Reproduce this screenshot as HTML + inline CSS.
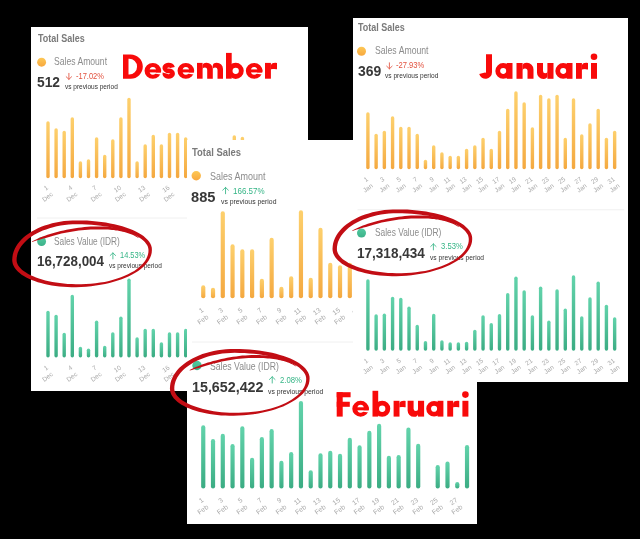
<!DOCTYPE html>
<html><head><meta charset="utf-8"><title>Sales</title>
<style>
html,body{margin:0;padding:0;background:#000;}
body{width:640px;height:539px;position:relative;overflow:hidden;font-family:"Liberation Sans",sans-serif;}
.panel{position:absolute;background:#fff;overflow:hidden;}
.tl{position:absolute;left:0;top:0;right:0;bottom:0;will-change:transform;}
.t{position:absolute;white-space:nowrap;line-height:1;transform-origin:left center;}
.big{position:absolute;white-space:nowrap;line-height:1;color:#f60a0a;-webkit-text-stroke:1.3px #f60a0a;font-weight:700;transform-origin:left bottom;z-index:20;}
svg text{font-family:"Liberation Sans",sans-serif;}
</style></head><body>
<svg width="0" height="0" style="position:absolute"><defs>
<linearGradient id="og" x1="0" y1="0" x2="0" y2="1"><stop offset="0" stop-color="#fdd06d"/><stop offset="1" stop-color="#f4a83f"/></linearGradient>
<linearGradient id="gg" x1="0" y1="0" x2="0" y2="1"><stop offset="0" stop-color="#62d3ab"/><stop offset="1" stop-color="#3bac83"/></linearGradient>
<linearGradient id="od" x1="0" y1="0" x2="0" y2="1"><stop offset="0" stop-color="#fdc856"/><stop offset="1" stop-color="#f8a83e"/></linearGradient>
<linearGradient id="gd" x1="0" y1="0" x2="0" y2="1"><stop offset="0" stop-color="#52caa0"/><stop offset="1" stop-color="#3cb189"/></linearGradient>
</defs></svg>
<div class="panel" style="left:31px;top:26.5px;width:276.5px;height:364.5px;z-index:1">
<svg width="276.5" height="364.5" viewBox="31 26.5 276.5 364.5" style="position:absolute;left:0;top:0;overflow:hidden;will-change:transform">
<line x1="37" y1="217.5" x2="301" y2="217.5" stroke="#f0f0f0" stroke-width="1"/>
<rect x="46.30" y="120.75" width="3.4" height="56.95" rx="1.7" fill="url(#og)"/>
<rect x="54.40" y="127.75" width="3.4" height="49.95" rx="1.7" fill="url(#og)"/>
<rect x="62.50" y="130.25" width="3.4" height="47.45" rx="1.7" fill="url(#og)"/>
<rect x="70.60" y="116.75" width="3.4" height="60.95" rx="1.7" fill="url(#og)"/>
<rect x="78.70" y="160.75" width="3.4" height="16.95" rx="1.7" fill="url(#og)"/>
<rect x="86.80" y="158.75" width="3.4" height="18.95" rx="1.7" fill="url(#og)"/>
<rect x="94.90" y="136.75" width="3.4" height="40.95" rx="1.7" fill="url(#og)"/>
<rect x="103.00" y="154.25" width="3.4" height="23.45" rx="1.7" fill="url(#og)"/>
<rect x="111.10" y="138.75" width="3.4" height="38.95" rx="1.7" fill="url(#og)"/>
<rect x="119.20" y="116.75" width="3.4" height="60.95" rx="1.7" fill="url(#og)"/>
<rect x="127.30" y="97.25" width="3.4" height="80.45" rx="1.7" fill="url(#og)"/>
<rect x="135.40" y="160.75" width="3.4" height="16.95" rx="1.7" fill="url(#og)"/>
<rect x="143.50" y="143.75" width="3.4" height="33.95" rx="1.7" fill="url(#og)"/>
<rect x="151.60" y="134.25" width="3.4" height="43.45" rx="1.7" fill="url(#og)"/>
<rect x="159.70" y="143.75" width="3.4" height="33.95" rx="1.7" fill="url(#og)"/>
<rect x="167.80" y="132.25" width="3.4" height="45.45" rx="1.7" fill="url(#og)"/>
<rect x="175.90" y="132.25" width="3.4" height="45.45" rx="1.7" fill="url(#og)"/>
<rect x="184.00" y="136.75" width="3.4" height="40.95" rx="1.7" fill="url(#og)"/>
<rect x="192.10" y="149.25" width="3.4" height="28.45" rx="1.7" fill="url(#og)"/>
<rect x="200.20" y="149.25" width="3.4" height="28.45" rx="1.7" fill="url(#og)"/>
<rect x="208.30" y="149.25" width="3.4" height="28.45" rx="1.7" fill="url(#og)"/>
<rect x="216.40" y="149.25" width="3.4" height="28.45" rx="1.7" fill="url(#og)"/>
<rect x="224.50" y="149.25" width="3.4" height="28.45" rx="1.7" fill="url(#og)"/>
<rect x="232.60" y="134.75" width="3.4" height="42.95" rx="1.7" fill="url(#og)"/>
<rect x="240.70" y="136.25" width="3.4" height="41.45" rx="1.7" fill="url(#og)"/>
<rect x="248.80" y="149.25" width="3.4" height="28.45" rx="1.7" fill="url(#og)"/>
<rect x="256.90" y="149.25" width="3.4" height="28.45" rx="1.7" fill="url(#og)"/>
<rect x="265.00" y="149.25" width="3.4" height="28.45" rx="1.7" fill="url(#og)"/>
<rect x="273.10" y="149.25" width="3.4" height="28.45" rx="1.7" fill="url(#og)"/>
<rect x="281.20" y="149.25" width="3.4" height="28.45" rx="1.7" fill="url(#og)"/>
<rect x="289.30" y="149.25" width="3.4" height="28.45" rx="1.7" fill="url(#og)"/>
<rect x="46.30" y="310.25" width="3.4" height="46.75" rx="1.7" fill="url(#gg)"/>
<rect x="54.40" y="314.25" width="3.4" height="42.75" rx="1.7" fill="url(#gg)"/>
<rect x="62.50" y="332.25" width="3.4" height="24.75" rx="1.7" fill="url(#gg)"/>
<rect x="70.60" y="294.25" width="3.4" height="62.75" rx="1.7" fill="url(#gg)"/>
<rect x="78.70" y="346.25" width="3.4" height="10.75" rx="1.7" fill="url(#gg)"/>
<rect x="86.80" y="348.00" width="3.4" height="9.00" rx="1.7" fill="url(#gg)"/>
<rect x="94.90" y="320.00" width="3.4" height="37.00" rx="1.7" fill="url(#gg)"/>
<rect x="103.00" y="345.25" width="3.4" height="11.75" rx="1.7" fill="url(#gg)"/>
<rect x="111.10" y="331.75" width="3.4" height="25.25" rx="1.7" fill="url(#gg)"/>
<rect x="119.20" y="316.00" width="3.4" height="41.00" rx="1.7" fill="url(#gg)"/>
<rect x="127.30" y="278.00" width="3.4" height="79.00" rx="1.7" fill="url(#gg)"/>
<rect x="135.40" y="336.75" width="3.4" height="20.25" rx="1.7" fill="url(#gg)"/>
<rect x="143.50" y="328.25" width="3.4" height="28.75" rx="1.7" fill="url(#gg)"/>
<rect x="151.60" y="328.25" width="3.4" height="28.75" rx="1.7" fill="url(#gg)"/>
<rect x="159.70" y="341.75" width="3.4" height="15.25" rx="1.7" fill="url(#gg)"/>
<rect x="167.80" y="331.75" width="3.4" height="25.25" rx="1.7" fill="url(#gg)"/>
<rect x="175.90" y="331.75" width="3.4" height="25.25" rx="1.7" fill="url(#gg)"/>
<rect x="184.00" y="328.25" width="3.4" height="28.75" rx="1.7" fill="url(#gg)"/>
<rect x="192.10" y="339.25" width="3.4" height="17.75" rx="1.7" fill="url(#gg)"/>
<rect x="200.20" y="339.25" width="3.4" height="17.75" rx="1.7" fill="url(#gg)"/>
<rect x="208.30" y="339.25" width="3.4" height="17.75" rx="1.7" fill="url(#gg)"/>
<rect x="216.40" y="339.25" width="3.4" height="17.75" rx="1.7" fill="url(#gg)"/>
<rect x="224.50" y="339.25" width="3.4" height="17.75" rx="1.7" fill="url(#gg)"/>
<rect x="232.60" y="339.25" width="3.4" height="17.75" rx="1.7" fill="url(#gg)"/>
<rect x="240.70" y="339.25" width="3.4" height="17.75" rx="1.7" fill="url(#gg)"/>
<rect x="248.80" y="339.25" width="3.4" height="17.75" rx="1.7" fill="url(#gg)"/>
<rect x="256.90" y="339.25" width="3.4" height="17.75" rx="1.7" fill="url(#gg)"/>
<rect x="265.00" y="339.25" width="3.4" height="17.75" rx="1.7" fill="url(#gg)"/>
<rect x="273.10" y="339.25" width="3.4" height="17.75" rx="1.7" fill="url(#gg)"/>
<rect x="281.20" y="339.25" width="3.4" height="17.75" rx="1.7" fill="url(#gg)"/>
<rect x="289.30" y="339.25" width="3.4" height="17.75" rx="1.7" fill="url(#gg)"/>
<text transform="rotate(-36 48.70 188.00)" x="48.70" y="188.00" text-anchor="end" font-size="6.5" fill="#aaaaaa"><tspan x="48.70" dy="0">1</tspan><tspan x="48.70" dy="8.2">Dec</tspan></text>
<text transform="rotate(-36 73.00 188.00)" x="73.00" y="188.00" text-anchor="end" font-size="6.5" fill="#aaaaaa"><tspan x="73.00" dy="0">4</tspan><tspan x="73.00" dy="8.2">Dec</tspan></text>
<text transform="rotate(-36 97.30 188.00)" x="97.30" y="188.00" text-anchor="end" font-size="6.5" fill="#aaaaaa"><tspan x="97.30" dy="0">7</tspan><tspan x="97.30" dy="8.2">Dec</tspan></text>
<text transform="rotate(-36 121.60 188.00)" x="121.60" y="188.00" text-anchor="end" font-size="6.5" fill="#aaaaaa"><tspan x="121.60" dy="0">10</tspan><tspan x="121.60" dy="8.2">Dec</tspan></text>
<text transform="rotate(-36 145.90 188.00)" x="145.90" y="188.00" text-anchor="end" font-size="6.5" fill="#aaaaaa"><tspan x="145.90" dy="0">13</tspan><tspan x="145.90" dy="8.2">Dec</tspan></text>
<text transform="rotate(-36 170.20 188.00)" x="170.20" y="188.00" text-anchor="end" font-size="6.5" fill="#aaaaaa"><tspan x="170.20" dy="0">16</tspan><tspan x="170.20" dy="8.2">Dec</tspan></text>
<text transform="rotate(-36 194.50 188.00)" x="194.50" y="188.00" text-anchor="end" font-size="6.5" fill="#aaaaaa"><tspan x="194.50" dy="0">19</tspan><tspan x="194.50" dy="8.2">Dec</tspan></text>
<text transform="rotate(-36 218.80 188.00)" x="218.80" y="188.00" text-anchor="end" font-size="6.5" fill="#aaaaaa"><tspan x="218.80" dy="0">22</tspan><tspan x="218.80" dy="8.2">Dec</tspan></text>
<text transform="rotate(-36 243.10 188.00)" x="243.10" y="188.00" text-anchor="end" font-size="6.5" fill="#aaaaaa"><tspan x="243.10" dy="0">25</tspan><tspan x="243.10" dy="8.2">Dec</tspan></text>
<text transform="rotate(-36 267.40 188.00)" x="267.40" y="188.00" text-anchor="end" font-size="6.5" fill="#aaaaaa"><tspan x="267.40" dy="0">28</tspan><tspan x="267.40" dy="8.2">Dec</tspan></text>
<text transform="rotate(-36 291.70 188.00)" x="291.70" y="188.00" text-anchor="end" font-size="6.5" fill="#aaaaaa"><tspan x="291.70" dy="0">31</tspan><tspan x="291.70" dy="8.2">Dec</tspan></text>
<text transform="rotate(-36 48.70 368.00)" x="48.70" y="368.00" text-anchor="end" font-size="6.5" fill="#aaaaaa"><tspan x="48.70" dy="0">1</tspan><tspan x="48.70" dy="8.2">Dec</tspan></text>
<text transform="rotate(-36 73.00 368.00)" x="73.00" y="368.00" text-anchor="end" font-size="6.5" fill="#aaaaaa"><tspan x="73.00" dy="0">4</tspan><tspan x="73.00" dy="8.2">Dec</tspan></text>
<text transform="rotate(-36 97.30 368.00)" x="97.30" y="368.00" text-anchor="end" font-size="6.5" fill="#aaaaaa"><tspan x="97.30" dy="0">7</tspan><tspan x="97.30" dy="8.2">Dec</tspan></text>
<text transform="rotate(-36 121.60 368.00)" x="121.60" y="368.00" text-anchor="end" font-size="6.5" fill="#aaaaaa"><tspan x="121.60" dy="0">10</tspan><tspan x="121.60" dy="8.2">Dec</tspan></text>
<text transform="rotate(-36 145.90 368.00)" x="145.90" y="368.00" text-anchor="end" font-size="6.5" fill="#aaaaaa"><tspan x="145.90" dy="0">13</tspan><tspan x="145.90" dy="8.2">Dec</tspan></text>
<text transform="rotate(-36 170.20 368.00)" x="170.20" y="368.00" text-anchor="end" font-size="6.5" fill="#aaaaaa"><tspan x="170.20" dy="0">16</tspan><tspan x="170.20" dy="8.2">Dec</tspan></text>
<text transform="rotate(-36 194.50 368.00)" x="194.50" y="368.00" text-anchor="end" font-size="6.5" fill="#aaaaaa"><tspan x="194.50" dy="0">19</tspan><tspan x="194.50" dy="8.2">Dec</tspan></text>
<text transform="rotate(-36 218.80 368.00)" x="218.80" y="368.00" text-anchor="end" font-size="6.5" fill="#aaaaaa"><tspan x="218.80" dy="0">22</tspan><tspan x="218.80" dy="8.2">Dec</tspan></text>
<text transform="rotate(-36 243.10 368.00)" x="243.10" y="368.00" text-anchor="end" font-size="6.5" fill="#aaaaaa"><tspan x="243.10" dy="0">25</tspan><tspan x="243.10" dy="8.2">Dec</tspan></text>
<text transform="rotate(-36 267.40 368.00)" x="267.40" y="368.00" text-anchor="end" font-size="6.5" fill="#aaaaaa"><tspan x="267.40" dy="0">28</tspan><tspan x="267.40" dy="8.2">Dec</tspan></text>
<text transform="rotate(-36 291.70 368.00)" x="291.70" y="368.00" text-anchor="end" font-size="6.5" fill="#aaaaaa"><tspan x="291.70" dy="0">31</tspan><tspan x="291.70" dy="8.2">Dec</tspan></text>
<circle cx="41.6" cy="61.7" r="4.45" fill="url(#od)"/>
<circle cx="41.6" cy="241" r="4.45" fill="url(#gd)"/>
<path d="M68.90 72.85 L68.90 78.85 M66.20 76.25 L68.90 78.85 L71.60 76.25" fill="none" stroke="#e2523f" stroke-width="0.85" stroke-linecap="round" stroke-linejoin="round"/>
<path d="M112.90 258.40 L112.90 252.40 M110.20 255.00 L112.90 252.40 L115.60 255.00" fill="none" stroke="#35b586" stroke-width="0.85" stroke-linecap="round" stroke-linejoin="round"/>
</svg>
<div class="tl"><span class="t" style="left:6.50px;top:12.25px;font-size:10.4px;font-weight:700;color:#7a7a7a;transform:translateY(-50%) scaleX(0.8651)">Total Sales</span>
<span class="t" style="left:23.08px;top:35.00px;font-size:10.2px;font-weight:400;color:#8c8c8c;transform:translateY(-50%) scaleX(0.8434)">Sales Amount</span>
<span class="t" style="left:6.01px;top:55.00px;font-size:14.1px;font-weight:700;color:#383838;transform:translateY(-50%) scaleX(0.9778)">512</span>
<span class="t" style="left:44.77px;top:49.60px;font-size:8.2px;font-weight:400;color:#e2523f;transform:translateY(-50%) scaleX(0.9167)">-17.02%</span>
<span class="t" style="left:33.50px;top:59.50px;font-size:7.2px;font-weight:400;color:#333;transform:translateY(-50%) scaleX(0.9052)">vs previous period</span>
<span class="t" style="left:23.09px;top:214.50px;font-size:10.2px;font-weight:400;color:#8c8c8c;transform:translateY(-50%) scaleX(0.8150)">Sales Value (IDR)</span>
<span class="t" style="left:5.79px;top:234.25px;font-size:14.1px;font-weight:700;color:#383838;transform:translateY(-50%) scaleX(0.9498)">16,728,004</span>
<span class="t" style="left:89.05px;top:229.25px;font-size:8.2px;font-weight:400;color:#35b586;transform:translateY(-50%) scaleX(0.9074)">14.53%</span>
<span class="t" style="left:77.75px;top:238.50px;font-size:7.2px;font-weight:400;color:#333;transform:translateY(-50%) scaleX(0.9052)">vs previous period</span>
</div></div>
<div class="panel" style="left:187px;top:140px;width:290px;height:384px;z-index:2">
<svg width="290" height="384" viewBox="187 140 290 384" style="position:absolute;left:0;top:0;overflow:hidden;will-change:transform">
<line x1="192" y1="342" x2="472" y2="342" stroke="#f0f0f0" stroke-width="1"/>
<rect x="201.15" y="285.30" width="4.2" height="13.00" rx="2.1" fill="url(#og)"/>
<rect x="210.92" y="287.80" width="4.2" height="10.50" rx="2.1" fill="url(#og)"/>
<rect x="220.69" y="211.30" width="4.2" height="87.00" rx="2.1" fill="url(#og)"/>
<rect x="230.46" y="244.30" width="4.2" height="54.00" rx="2.1" fill="url(#og)"/>
<rect x="240.23" y="249.30" width="4.2" height="49.00" rx="2.1" fill="url(#og)"/>
<rect x="250.00" y="249.30" width="4.2" height="49.00" rx="2.1" fill="url(#og)"/>
<rect x="259.77" y="278.80" width="4.2" height="19.50" rx="2.1" fill="url(#og)"/>
<rect x="269.54" y="237.80" width="4.2" height="60.50" rx="2.1" fill="url(#og)"/>
<rect x="279.31" y="286.80" width="4.2" height="11.50" rx="2.1" fill="url(#og)"/>
<rect x="289.08" y="276.30" width="4.2" height="22.00" rx="2.1" fill="url(#og)"/>
<rect x="298.85" y="210.30" width="4.2" height="88.00" rx="2.1" fill="url(#og)"/>
<rect x="308.62" y="277.80" width="4.2" height="20.50" rx="2.1" fill="url(#og)"/>
<rect x="318.39" y="227.80" width="4.2" height="70.50" rx="2.1" fill="url(#og)"/>
<rect x="328.16" y="262.80" width="4.2" height="35.50" rx="2.1" fill="url(#og)"/>
<rect x="337.93" y="265.30" width="4.2" height="33.00" rx="2.1" fill="url(#og)"/>
<rect x="347.70" y="262.80" width="4.2" height="35.50" rx="2.1" fill="url(#og)"/>
<rect x="357.47" y="270.30" width="4.2" height="28.00" rx="2.1" fill="url(#og)"/>
<rect x="367.24" y="270.30" width="4.2" height="28.00" rx="2.1" fill="url(#og)"/>
<rect x="377.01" y="270.30" width="4.2" height="28.00" rx="2.1" fill="url(#og)"/>
<rect x="386.78" y="270.30" width="4.2" height="28.00" rx="2.1" fill="url(#og)"/>
<rect x="396.55" y="270.30" width="4.2" height="28.00" rx="2.1" fill="url(#og)"/>
<rect x="406.32" y="270.30" width="4.2" height="28.00" rx="2.1" fill="url(#og)"/>
<rect x="416.09" y="270.30" width="4.2" height="28.00" rx="2.1" fill="url(#og)"/>
<rect x="425.86" y="270.30" width="4.2" height="28.00" rx="2.1" fill="url(#og)"/>
<rect x="435.63" y="270.30" width="4.2" height="28.00" rx="2.1" fill="url(#og)"/>
<rect x="445.40" y="270.30" width="4.2" height="28.00" rx="2.1" fill="url(#og)"/>
<rect x="455.17" y="270.30" width="4.2" height="28.00" rx="2.1" fill="url(#og)"/>
<rect x="464.94" y="270.30" width="4.2" height="28.00" rx="2.1" fill="url(#og)"/>
<rect x="201.15" y="425.30" width="4.2" height="63.20" rx="2.1" fill="url(#gg)"/>
<rect x="210.92" y="439.05" width="4.2" height="49.45" rx="2.1" fill="url(#gg)"/>
<rect x="220.69" y="433.80" width="4.2" height="54.70" rx="2.1" fill="url(#gg)"/>
<rect x="230.46" y="444.05" width="4.2" height="44.45" rx="2.1" fill="url(#gg)"/>
<rect x="240.23" y="426.30" width="4.2" height="62.20" rx="2.1" fill="url(#gg)"/>
<rect x="250.00" y="457.80" width="4.2" height="30.70" rx="2.1" fill="url(#gg)"/>
<rect x="259.77" y="437.05" width="4.2" height="51.45" rx="2.1" fill="url(#gg)"/>
<rect x="269.54" y="429.05" width="4.2" height="59.45" rx="2.1" fill="url(#gg)"/>
<rect x="279.31" y="460.80" width="4.2" height="27.70" rx="2.1" fill="url(#gg)"/>
<rect x="289.08" y="452.05" width="4.2" height="36.45" rx="2.1" fill="url(#gg)"/>
<rect x="298.85" y="401.00" width="4.2" height="87.50" rx="2.1" fill="url(#gg)"/>
<rect x="308.62" y="470.30" width="4.2" height="18.20" rx="2.1" fill="url(#gg)"/>
<rect x="318.39" y="453.30" width="4.2" height="35.20" rx="2.1" fill="url(#gg)"/>
<rect x="328.16" y="450.80" width="4.2" height="37.70" rx="2.1" fill="url(#gg)"/>
<rect x="337.93" y="453.80" width="4.2" height="34.70" rx="2.1" fill="url(#gg)"/>
<rect x="347.70" y="437.80" width="4.2" height="50.70" rx="2.1" fill="url(#gg)"/>
<rect x="357.47" y="445.30" width="4.2" height="43.20" rx="2.1" fill="url(#gg)"/>
<rect x="367.24" y="430.80" width="4.2" height="57.70" rx="2.1" fill="url(#gg)"/>
<rect x="377.01" y="423.80" width="4.2" height="64.70" rx="2.1" fill="url(#gg)"/>
<rect x="386.78" y="455.80" width="4.2" height="32.70" rx="2.1" fill="url(#gg)"/>
<rect x="396.55" y="455.05" width="4.2" height="33.45" rx="2.1" fill="url(#gg)"/>
<rect x="406.32" y="427.55" width="4.2" height="60.95" rx="2.1" fill="url(#gg)"/>
<rect x="416.09" y="443.80" width="4.2" height="44.70" rx="2.1" fill="url(#gg)"/>
<rect x="435.63" y="465.05" width="4.2" height="23.45" rx="2.1" fill="url(#gg)"/>
<rect x="445.40" y="461.55" width="4.2" height="26.95" rx="2.1" fill="url(#gg)"/>
<rect x="455.17" y="482.05" width="4.2" height="6.45" rx="2.1" fill="url(#gg)"/>
<rect x="464.94" y="445.05" width="4.2" height="43.45" rx="2.1" fill="url(#gg)"/>
<text transform="rotate(-36 203.95 311.00)" x="203.95" y="311.00" text-anchor="end" font-size="6.8" fill="#aaaaaa"><tspan x="203.95" dy="0">1</tspan><tspan x="203.95" dy="8.6">Feb</tspan></text>
<text transform="rotate(-36 223.49 311.00)" x="223.49" y="311.00" text-anchor="end" font-size="6.8" fill="#aaaaaa"><tspan x="223.49" dy="0">3</tspan><tspan x="223.49" dy="8.6">Feb</tspan></text>
<text transform="rotate(-36 243.03 311.00)" x="243.03" y="311.00" text-anchor="end" font-size="6.8" fill="#aaaaaa"><tspan x="243.03" dy="0">5</tspan><tspan x="243.03" dy="8.6">Feb</tspan></text>
<text transform="rotate(-36 262.57 311.00)" x="262.57" y="311.00" text-anchor="end" font-size="6.8" fill="#aaaaaa"><tspan x="262.57" dy="0">7</tspan><tspan x="262.57" dy="8.6">Feb</tspan></text>
<text transform="rotate(-36 282.11 311.00)" x="282.11" y="311.00" text-anchor="end" font-size="6.8" fill="#aaaaaa"><tspan x="282.11" dy="0">9</tspan><tspan x="282.11" dy="8.6">Feb</tspan></text>
<text transform="rotate(-36 301.65 311.00)" x="301.65" y="311.00" text-anchor="end" font-size="6.8" fill="#aaaaaa"><tspan x="301.65" dy="0">11</tspan><tspan x="301.65" dy="8.6">Feb</tspan></text>
<text transform="rotate(-36 321.19 311.00)" x="321.19" y="311.00" text-anchor="end" font-size="6.8" fill="#aaaaaa"><tspan x="321.19" dy="0">13</tspan><tspan x="321.19" dy="8.6">Feb</tspan></text>
<text transform="rotate(-36 340.73 311.00)" x="340.73" y="311.00" text-anchor="end" font-size="6.8" fill="#aaaaaa"><tspan x="340.73" dy="0">15</tspan><tspan x="340.73" dy="8.6">Feb</tspan></text>
<text transform="rotate(-36 360.27 311.00)" x="360.27" y="311.00" text-anchor="end" font-size="6.8" fill="#aaaaaa"><tspan x="360.27" dy="0">17</tspan><tspan x="360.27" dy="8.6">Feb</tspan></text>
<text transform="rotate(-36 379.81 311.00)" x="379.81" y="311.00" text-anchor="end" font-size="6.8" fill="#aaaaaa"><tspan x="379.81" dy="0">19</tspan><tspan x="379.81" dy="8.6">Feb</tspan></text>
<text transform="rotate(-36 399.35 311.00)" x="399.35" y="311.00" text-anchor="end" font-size="6.8" fill="#aaaaaa"><tspan x="399.35" dy="0">21</tspan><tspan x="399.35" dy="8.6">Feb</tspan></text>
<text transform="rotate(-36 418.89 311.00)" x="418.89" y="311.00" text-anchor="end" font-size="6.8" fill="#aaaaaa"><tspan x="418.89" dy="0">23</tspan><tspan x="418.89" dy="8.6">Feb</tspan></text>
<text transform="rotate(-36 438.43 311.00)" x="438.43" y="311.00" text-anchor="end" font-size="6.8" fill="#aaaaaa"><tspan x="438.43" dy="0">25</tspan><tspan x="438.43" dy="8.6">Feb</tspan></text>
<text transform="rotate(-36 457.97 311.00)" x="457.97" y="311.00" text-anchor="end" font-size="6.8" fill="#aaaaaa"><tspan x="457.97" dy="0">27</tspan><tspan x="457.97" dy="8.6">Feb</tspan></text>
<text transform="rotate(-36 203.95 501.00)" x="203.95" y="501.00" text-anchor="end" font-size="6.8" fill="#aaaaaa"><tspan x="203.95" dy="0">1</tspan><tspan x="203.95" dy="8.6">Feb</tspan></text>
<text transform="rotate(-36 223.49 501.00)" x="223.49" y="501.00" text-anchor="end" font-size="6.8" fill="#aaaaaa"><tspan x="223.49" dy="0">3</tspan><tspan x="223.49" dy="8.6">Feb</tspan></text>
<text transform="rotate(-36 243.03 501.00)" x="243.03" y="501.00" text-anchor="end" font-size="6.8" fill="#aaaaaa"><tspan x="243.03" dy="0">5</tspan><tspan x="243.03" dy="8.6">Feb</tspan></text>
<text transform="rotate(-36 262.57 501.00)" x="262.57" y="501.00" text-anchor="end" font-size="6.8" fill="#aaaaaa"><tspan x="262.57" dy="0">7</tspan><tspan x="262.57" dy="8.6">Feb</tspan></text>
<text transform="rotate(-36 282.11 501.00)" x="282.11" y="501.00" text-anchor="end" font-size="6.8" fill="#aaaaaa"><tspan x="282.11" dy="0">9</tspan><tspan x="282.11" dy="8.6">Feb</tspan></text>
<text transform="rotate(-36 301.65 501.00)" x="301.65" y="501.00" text-anchor="end" font-size="6.8" fill="#aaaaaa"><tspan x="301.65" dy="0">11</tspan><tspan x="301.65" dy="8.6">Feb</tspan></text>
<text transform="rotate(-36 321.19 501.00)" x="321.19" y="501.00" text-anchor="end" font-size="6.8" fill="#aaaaaa"><tspan x="321.19" dy="0">13</tspan><tspan x="321.19" dy="8.6">Feb</tspan></text>
<text transform="rotate(-36 340.73 501.00)" x="340.73" y="501.00" text-anchor="end" font-size="6.8" fill="#aaaaaa"><tspan x="340.73" dy="0">15</tspan><tspan x="340.73" dy="8.6">Feb</tspan></text>
<text transform="rotate(-36 360.27 501.00)" x="360.27" y="501.00" text-anchor="end" font-size="6.8" fill="#aaaaaa"><tspan x="360.27" dy="0">17</tspan><tspan x="360.27" dy="8.6">Feb</tspan></text>
<text transform="rotate(-36 379.81 501.00)" x="379.81" y="501.00" text-anchor="end" font-size="6.8" fill="#aaaaaa"><tspan x="379.81" dy="0">19</tspan><tspan x="379.81" dy="8.6">Feb</tspan></text>
<text transform="rotate(-36 399.35 501.00)" x="399.35" y="501.00" text-anchor="end" font-size="6.8" fill="#aaaaaa"><tspan x="399.35" dy="0">21</tspan><tspan x="399.35" dy="8.6">Feb</tspan></text>
<text transform="rotate(-36 418.89 501.00)" x="418.89" y="501.00" text-anchor="end" font-size="6.8" fill="#aaaaaa"><tspan x="418.89" dy="0">23</tspan><tspan x="418.89" dy="8.6">Feb</tspan></text>
<text transform="rotate(-36 438.43 501.00)" x="438.43" y="501.00" text-anchor="end" font-size="6.8" fill="#aaaaaa"><tspan x="438.43" dy="0">25</tspan><tspan x="438.43" dy="8.6">Feb</tspan></text>
<text transform="rotate(-36 457.97 501.00)" x="457.97" y="501.00" text-anchor="end" font-size="6.8" fill="#aaaaaa"><tspan x="457.97" dy="0">27</tspan><tspan x="457.97" dy="8.6">Feb</tspan></text>
<circle cx="196.25" cy="175.75" r="4.7" fill="url(#od)"/>
<circle cx="197" cy="365.5" r="4.7" fill="url(#gd)"/>
<path d="M225.54 193.75 L225.54 187.45 M222.70 190.18 L225.54 187.45 L228.37 190.18" fill="none" stroke="#35b586" stroke-width="0.85" stroke-linecap="round" stroke-linejoin="round"/>
<path d="M272.23 383.05 L272.23 376.75 M269.40 379.48 L272.23 376.75 L275.07 379.48" fill="none" stroke="#35b586" stroke-width="0.85" stroke-linecap="round" stroke-linejoin="round"/>
</svg>
<div class="tl"><span class="t" style="left:5.40px;top:11.75px;font-size:10.9px;font-weight:700;color:#7a7a7a;transform:translateY(-50%) scaleX(0.8658)">Total Sales</span>
<span class="t" style="left:23.33px;top:35.75px;font-size:10.7px;font-weight:400;color:#8c8c8c;transform:translateY(-50%) scaleX(0.8397)">Sales Amount</span>
<span class="t" style="left:4.40px;top:56.50px;font-size:14.7px;font-weight:700;color:#383838;transform:translateY(-50%) scaleX(0.9957)">885</span>
<span class="t" style="left:45.60px;top:50.75px;font-size:8.6px;font-weight:400;color:#35b586;transform:translateY(-50%) scaleX(0.9333)">166.57%</span>
<span class="t" style="left:33.75px;top:61.75px;font-size:7.55px;font-weight:400;color:#333;transform:translateY(-50%) scaleX(0.9053)">vs previous period</span>
<span class="t" style="left:23.34px;top:225.50px;font-size:10.7px;font-weight:400;color:#8c8c8c;transform:translateY(-50%) scaleX(0.8119)">Sales Value (IDR)</span>
<span class="t" style="left:4.53px;top:246.90px;font-size:14.7px;font-weight:700;color:#383838;transform:translateY(-50%) scaleX(0.9722)">15,652,422</span>
<span class="t" style="left:92.55px;top:240.25px;font-size:8.6px;font-weight:400;color:#35b586;transform:translateY(-50%) scaleX(0.8947)">2.08%</span>
<span class="t" style="left:81.25px;top:251.75px;font-size:7.55px;font-weight:400;color:#333;transform:translateY(-50%) scaleX(0.9012)">vs previous period</span>
</div></div>
<div class="panel" style="left:352.5px;top:17.5px;width:275.0px;height:364.5px;z-index:3">
<svg width="275.0" height="364.5" viewBox="352.5 17.5 275.0 364.5" style="position:absolute;left:0;top:0;overflow:hidden;will-change:transform">
<line x1="357" y1="209.25" x2="623.75" y2="209.25" stroke="#f0f0f0" stroke-width="1"/>
<rect x="365.70" y="111.70" width="3.4" height="57.00" rx="1.7" fill="url(#og)"/>
<rect x="373.93" y="133.20" width="3.4" height="35.50" rx="1.7" fill="url(#og)"/>
<rect x="382.15" y="130.20" width="3.4" height="38.50" rx="1.7" fill="url(#og)"/>
<rect x="390.38" y="115.70" width="3.4" height="53.00" rx="1.7" fill="url(#og)"/>
<rect x="398.60" y="126.20" width="3.4" height="42.50" rx="1.7" fill="url(#og)"/>
<rect x="406.82" y="126.20" width="3.4" height="42.50" rx="1.7" fill="url(#og)"/>
<rect x="415.05" y="133.20" width="3.4" height="35.50" rx="1.7" fill="url(#og)"/>
<rect x="423.27" y="159.20" width="3.4" height="9.50" rx="1.7" fill="url(#og)"/>
<rect x="431.50" y="144.70" width="3.4" height="24.00" rx="1.7" fill="url(#og)"/>
<rect x="439.72" y="151.70" width="3.4" height="17.00" rx="1.7" fill="url(#og)"/>
<rect x="447.95" y="155.20" width="3.4" height="13.50" rx="1.7" fill="url(#og)"/>
<rect x="456.18" y="155.20" width="3.4" height="13.50" rx="1.7" fill="url(#og)"/>
<rect x="464.40" y="148.20" width="3.4" height="20.50" rx="1.7" fill="url(#og)"/>
<rect x="472.62" y="144.70" width="3.4" height="24.00" rx="1.7" fill="url(#og)"/>
<rect x="480.85" y="137.20" width="3.4" height="31.50" rx="1.7" fill="url(#og)"/>
<rect x="489.07" y="148.20" width="3.4" height="20.50" rx="1.7" fill="url(#og)"/>
<rect x="497.30" y="130.20" width="3.4" height="38.50" rx="1.7" fill="url(#og)"/>
<rect x="505.52" y="108.20" width="3.4" height="60.50" rx="1.7" fill="url(#og)"/>
<rect x="513.75" y="90.70" width="3.4" height="78.00" rx="1.7" fill="url(#og)"/>
<rect x="521.97" y="101.70" width="3.4" height="67.00" rx="1.7" fill="url(#og)"/>
<rect x="530.20" y="126.70" width="3.4" height="42.00" rx="1.7" fill="url(#og)"/>
<rect x="538.42" y="94.20" width="3.4" height="74.50" rx="1.7" fill="url(#og)"/>
<rect x="546.65" y="97.70" width="3.4" height="71.00" rx="1.7" fill="url(#og)"/>
<rect x="554.87" y="94.20" width="3.4" height="74.50" rx="1.7" fill="url(#og)"/>
<rect x="563.10" y="137.20" width="3.4" height="31.50" rx="1.7" fill="url(#og)"/>
<rect x="571.32" y="97.70" width="3.4" height="71.00" rx="1.7" fill="url(#og)"/>
<rect x="579.55" y="133.70" width="3.4" height="35.00" rx="1.7" fill="url(#og)"/>
<rect x="587.77" y="122.70" width="3.4" height="46.00" rx="1.7" fill="url(#og)"/>
<rect x="596.00" y="108.20" width="3.4" height="60.50" rx="1.7" fill="url(#og)"/>
<rect x="604.22" y="137.20" width="3.4" height="31.50" rx="1.7" fill="url(#og)"/>
<rect x="612.45" y="130.20" width="3.4" height="38.50" rx="1.7" fill="url(#og)"/>
<rect x="365.70" y="278.70" width="3.4" height="71.60" rx="1.7" fill="url(#gg)"/>
<rect x="373.93" y="313.70" width="3.4" height="36.60" rx="1.7" fill="url(#gg)"/>
<rect x="382.15" y="312.95" width="3.4" height="37.35" rx="1.7" fill="url(#gg)"/>
<rect x="390.38" y="296.20" width="3.4" height="54.10" rx="1.7" fill="url(#gg)"/>
<rect x="398.60" y="297.20" width="3.4" height="53.10" rx="1.7" fill="url(#gg)"/>
<rect x="406.82" y="305.95" width="3.4" height="44.35" rx="1.7" fill="url(#gg)"/>
<rect x="415.05" y="324.20" width="3.4" height="26.10" rx="1.7" fill="url(#gg)"/>
<rect x="423.27" y="340.45" width="3.4" height="9.85" rx="1.7" fill="url(#gg)"/>
<rect x="431.50" y="313.20" width="3.4" height="37.10" rx="1.7" fill="url(#gg)"/>
<rect x="439.72" y="339.70" width="3.4" height="10.60" rx="1.7" fill="url(#gg)"/>
<rect x="447.95" y="341.70" width="3.4" height="8.60" rx="1.7" fill="url(#gg)"/>
<rect x="456.18" y="341.70" width="3.4" height="8.60" rx="1.7" fill="url(#gg)"/>
<rect x="464.40" y="341.20" width="3.4" height="9.10" rx="1.7" fill="url(#gg)"/>
<rect x="472.62" y="329.20" width="3.4" height="21.10" rx="1.7" fill="url(#gg)"/>
<rect x="480.85" y="314.70" width="3.4" height="35.60" rx="1.7" fill="url(#gg)"/>
<rect x="489.07" y="322.45" width="3.4" height="27.85" rx="1.7" fill="url(#gg)"/>
<rect x="497.30" y="313.45" width="3.4" height="36.85" rx="1.7" fill="url(#gg)"/>
<rect x="505.52" y="292.45" width="3.4" height="57.85" rx="1.7" fill="url(#gg)"/>
<rect x="513.75" y="275.95" width="3.4" height="74.35" rx="1.7" fill="url(#gg)"/>
<rect x="521.97" y="289.70" width="3.4" height="60.60" rx="1.7" fill="url(#gg)"/>
<rect x="530.20" y="314.70" width="3.4" height="35.60" rx="1.7" fill="url(#gg)"/>
<rect x="538.42" y="285.95" width="3.4" height="64.35" rx="1.7" fill="url(#gg)"/>
<rect x="546.65" y="319.95" width="3.4" height="30.35" rx="1.7" fill="url(#gg)"/>
<rect x="554.87" y="288.70" width="3.4" height="61.60" rx="1.7" fill="url(#gg)"/>
<rect x="563.10" y="307.95" width="3.4" height="42.35" rx="1.7" fill="url(#gg)"/>
<rect x="571.32" y="274.70" width="3.4" height="75.60" rx="1.7" fill="url(#gg)"/>
<rect x="579.55" y="315.70" width="3.4" height="34.60" rx="1.7" fill="url(#gg)"/>
<rect x="587.77" y="296.70" width="3.4" height="53.60" rx="1.7" fill="url(#gg)"/>
<rect x="596.00" y="280.95" width="3.4" height="69.35" rx="1.7" fill="url(#gg)"/>
<rect x="604.22" y="304.20" width="3.4" height="46.10" rx="1.7" fill="url(#gg)"/>
<rect x="612.45" y="316.70" width="3.4" height="33.60" rx="1.7" fill="url(#gg)"/>
<text transform="rotate(-36 368.10 179.50)" x="368.10" y="179.50" text-anchor="end" font-size="6.5" fill="#aaaaaa"><tspan x="368.10" dy="0">1</tspan><tspan x="368.10" dy="8.2">Jan</tspan></text>
<text transform="rotate(-36 384.55 179.50)" x="384.55" y="179.50" text-anchor="end" font-size="6.5" fill="#aaaaaa"><tspan x="384.55" dy="0">3</tspan><tspan x="384.55" dy="8.2">Jan</tspan></text>
<text transform="rotate(-36 401.00 179.50)" x="401.00" y="179.50" text-anchor="end" font-size="6.5" fill="#aaaaaa"><tspan x="401.00" dy="0">5</tspan><tspan x="401.00" dy="8.2">Jan</tspan></text>
<text transform="rotate(-36 417.45 179.50)" x="417.45" y="179.50" text-anchor="end" font-size="6.5" fill="#aaaaaa"><tspan x="417.45" dy="0">7</tspan><tspan x="417.45" dy="8.2">Jan</tspan></text>
<text transform="rotate(-36 433.90 179.50)" x="433.90" y="179.50" text-anchor="end" font-size="6.5" fill="#aaaaaa"><tspan x="433.90" dy="0">9</tspan><tspan x="433.90" dy="8.2">Jan</tspan></text>
<text transform="rotate(-36 450.35 179.50)" x="450.35" y="179.50" text-anchor="end" font-size="6.5" fill="#aaaaaa"><tspan x="450.35" dy="0">11</tspan><tspan x="450.35" dy="8.2">Jan</tspan></text>
<text transform="rotate(-36 466.80 179.50)" x="466.80" y="179.50" text-anchor="end" font-size="6.5" fill="#aaaaaa"><tspan x="466.80" dy="0">13</tspan><tspan x="466.80" dy="8.2">Jan</tspan></text>
<text transform="rotate(-36 483.25 179.50)" x="483.25" y="179.50" text-anchor="end" font-size="6.5" fill="#aaaaaa"><tspan x="483.25" dy="0">15</tspan><tspan x="483.25" dy="8.2">Jan</tspan></text>
<text transform="rotate(-36 499.70 179.50)" x="499.70" y="179.50" text-anchor="end" font-size="6.5" fill="#aaaaaa"><tspan x="499.70" dy="0">17</tspan><tspan x="499.70" dy="8.2">Jan</tspan></text>
<text transform="rotate(-36 516.15 179.50)" x="516.15" y="179.50" text-anchor="end" font-size="6.5" fill="#aaaaaa"><tspan x="516.15" dy="0">19</tspan><tspan x="516.15" dy="8.2">Jan</tspan></text>
<text transform="rotate(-36 532.60 179.50)" x="532.60" y="179.50" text-anchor="end" font-size="6.5" fill="#aaaaaa"><tspan x="532.60" dy="0">21</tspan><tspan x="532.60" dy="8.2">Jan</tspan></text>
<text transform="rotate(-36 549.05 179.50)" x="549.05" y="179.50" text-anchor="end" font-size="6.5" fill="#aaaaaa"><tspan x="549.05" dy="0">23</tspan><tspan x="549.05" dy="8.2">Jan</tspan></text>
<text transform="rotate(-36 565.50 179.50)" x="565.50" y="179.50" text-anchor="end" font-size="6.5" fill="#aaaaaa"><tspan x="565.50" dy="0">25</tspan><tspan x="565.50" dy="8.2">Jan</tspan></text>
<text transform="rotate(-36 581.95 179.50)" x="581.95" y="179.50" text-anchor="end" font-size="6.5" fill="#aaaaaa"><tspan x="581.95" dy="0">27</tspan><tspan x="581.95" dy="8.2">Jan</tspan></text>
<text transform="rotate(-36 598.40 179.50)" x="598.40" y="179.50" text-anchor="end" font-size="6.5" fill="#aaaaaa"><tspan x="598.40" dy="0">29</tspan><tspan x="598.40" dy="8.2">Jan</tspan></text>
<text transform="rotate(-36 614.85 179.50)" x="614.85" y="179.50" text-anchor="end" font-size="6.5" fill="#aaaaaa"><tspan x="614.85" dy="0">31</tspan><tspan x="614.85" dy="8.2">Jan</tspan></text>
<text transform="rotate(-36 368.10 361.00)" x="368.10" y="361.00" text-anchor="end" font-size="6.5" fill="#aaaaaa"><tspan x="368.10" dy="0">1</tspan><tspan x="368.10" dy="8.2">Jan</tspan></text>
<text transform="rotate(-36 384.55 361.00)" x="384.55" y="361.00" text-anchor="end" font-size="6.5" fill="#aaaaaa"><tspan x="384.55" dy="0">3</tspan><tspan x="384.55" dy="8.2">Jan</tspan></text>
<text transform="rotate(-36 401.00 361.00)" x="401.00" y="361.00" text-anchor="end" font-size="6.5" fill="#aaaaaa"><tspan x="401.00" dy="0">5</tspan><tspan x="401.00" dy="8.2">Jan</tspan></text>
<text transform="rotate(-36 417.45 361.00)" x="417.45" y="361.00" text-anchor="end" font-size="6.5" fill="#aaaaaa"><tspan x="417.45" dy="0">7</tspan><tspan x="417.45" dy="8.2">Jan</tspan></text>
<text transform="rotate(-36 433.90 361.00)" x="433.90" y="361.00" text-anchor="end" font-size="6.5" fill="#aaaaaa"><tspan x="433.90" dy="0">9</tspan><tspan x="433.90" dy="8.2">Jan</tspan></text>
<text transform="rotate(-36 450.35 361.00)" x="450.35" y="361.00" text-anchor="end" font-size="6.5" fill="#aaaaaa"><tspan x="450.35" dy="0">11</tspan><tspan x="450.35" dy="8.2">Jan</tspan></text>
<text transform="rotate(-36 466.80 361.00)" x="466.80" y="361.00" text-anchor="end" font-size="6.5" fill="#aaaaaa"><tspan x="466.80" dy="0">13</tspan><tspan x="466.80" dy="8.2">Jan</tspan></text>
<text transform="rotate(-36 483.25 361.00)" x="483.25" y="361.00" text-anchor="end" font-size="6.5" fill="#aaaaaa"><tspan x="483.25" dy="0">15</tspan><tspan x="483.25" dy="8.2">Jan</tspan></text>
<text transform="rotate(-36 499.70 361.00)" x="499.70" y="361.00" text-anchor="end" font-size="6.5" fill="#aaaaaa"><tspan x="499.70" dy="0">17</tspan><tspan x="499.70" dy="8.2">Jan</tspan></text>
<text transform="rotate(-36 516.15 361.00)" x="516.15" y="361.00" text-anchor="end" font-size="6.5" fill="#aaaaaa"><tspan x="516.15" dy="0">19</tspan><tspan x="516.15" dy="8.2">Jan</tspan></text>
<text transform="rotate(-36 532.60 361.00)" x="532.60" y="361.00" text-anchor="end" font-size="6.5" fill="#aaaaaa"><tspan x="532.60" dy="0">21</tspan><tspan x="532.60" dy="8.2">Jan</tspan></text>
<text transform="rotate(-36 549.05 361.00)" x="549.05" y="361.00" text-anchor="end" font-size="6.5" fill="#aaaaaa"><tspan x="549.05" dy="0">23</tspan><tspan x="549.05" dy="8.2">Jan</tspan></text>
<text transform="rotate(-36 565.50 361.00)" x="565.50" y="361.00" text-anchor="end" font-size="6.5" fill="#aaaaaa"><tspan x="565.50" dy="0">25</tspan><tspan x="565.50" dy="8.2">Jan</tspan></text>
<text transform="rotate(-36 581.95 361.00)" x="581.95" y="361.00" text-anchor="end" font-size="6.5" fill="#aaaaaa"><tspan x="581.95" dy="0">27</tspan><tspan x="581.95" dy="8.2">Jan</tspan></text>
<text transform="rotate(-36 598.40 361.00)" x="598.40" y="361.00" text-anchor="end" font-size="6.5" fill="#aaaaaa"><tspan x="598.40" dy="0">29</tspan><tspan x="598.40" dy="8.2">Jan</tspan></text>
<text transform="rotate(-36 614.85 361.00)" x="614.85" y="361.00" text-anchor="end" font-size="6.5" fill="#aaaaaa"><tspan x="614.85" dy="0">31</tspan><tspan x="614.85" dy="8.2">Jan</tspan></text>
<circle cx="361" cy="50.75" r="4.5" fill="url(#od)"/>
<circle cx="361" cy="232.5" r="4.5" fill="url(#gd)"/>
<path d="M388.90 62.30 L388.90 68.30 M386.20 65.70 L388.90 68.30 L391.60 65.70" fill="none" stroke="#e2523f" stroke-width="0.85" stroke-linecap="round" stroke-linejoin="round"/>
<path d="M432.90 249.40 L432.90 243.40 M430.20 246.00 L432.90 243.40 L435.60 246.00" fill="none" stroke="#35b586" stroke-width="0.85" stroke-linecap="round" stroke-linejoin="round"/>
</svg>
<div class="tl"><span class="t" style="left:5.00px;top:10.00px;font-size:10.4px;font-weight:700;color:#7a7a7a;transform:translateY(-50%) scaleX(0.8651)">Total Sales</span>
<span class="t" style="left:21.57px;top:33.25px;font-size:10.2px;font-weight:400;color:#8c8c8c;transform:translateY(-50%) scaleX(0.8514)">Sales Amount</span>
<span class="t" style="left:4.75px;top:53.25px;font-size:14.1px;font-weight:700;color:#383838;transform:translateY(-50%) scaleX(0.9890)">369</span>
<span class="t" style="left:43.27px;top:48.00px;font-size:8.2px;font-weight:400;color:#e2523f;transform:translateY(-50%) scaleX(0.9250)">-27.93%</span>
<span class="t" style="left:32.00px;top:57.50px;font-size:7.2px;font-weight:400;color:#333;transform:translateY(-50%) scaleX(0.9138)">vs previous period</span>
<span class="t" style="left:21.59px;top:215.00px;font-size:10.2px;font-weight:400;color:#8c8c8c;transform:translateY(-50%) scaleX(0.8213)">Sales Value (IDR)</span>
<span class="t" style="left:4.28px;top:235.25px;font-size:14.1px;font-weight:700;color:#383838;transform:translateY(-50%) scaleX(0.9606)">17,318,434</span>
<span class="t" style="left:87.77px;top:229.25px;font-size:8.2px;font-weight:400;color:#35b586;transform:translateY(-50%) scaleX(0.9341)">3.53%</span>
<span class="t" style="left:76.75px;top:239.50px;font-size:7.2px;font-weight:400;color:#333;transform:translateY(-50%) scaleX(0.9267)">vs previous period</span>
</div></div>
<svg width="640" height="539" viewBox="0 0 640 539" style="position:absolute;left:0;top:0;z-index:20;pointer-events:none">
<defs><clipPath id="rclip"><rect x="0" y="-20" width="12" height="10.6"/></clipPath></defs>
<g fill="#f80a0a">
<g transform="translate(123 78.7) scale(1.0)"><path d="M0 -24.3 H7.65 A12.15 12.15 0 0 1 7.65 0 H0 Z M5.5 -19.9 H6.2 A7.85 7.85 0 0 1 6.2 -4.2 H5.5 Z" fill-rule="evenodd"/></g>
<g transform="translate(144.5 78.7) scale(1.0)"><path fill-rule="evenodd" d="M0.05 -7.85 a8.3 7.95 0 1 0 16.6 0 a8.3 7.95 0 1 0 -16.6 0 Z M5.05 -7.85 a3.3 3.95 0 1 0 6.6 0 a3.3 3.95 0 1 0 -6.6 0 Z"/><path d="M9.5 -6.3 L17.6 -6.3 L17.6 -3.9 L9.5 -5.2 Z" fill="#fff"/><rect x="4.50" y="-9.30" width="12.05" height="3.00"/></g>
<g transform="translate(162.5 78.7) scale(1.0)"><path d="M10.04 -11.24 A3.9 2.85 0 1 0 6.20 -7.90 A3.9 2.85 0 1 1 2.36 -5.54" fill="none" stroke="#f80a0a" stroke-width="4.7" stroke-linecap="butt" stroke-linejoin="round"/></g>
<g transform="translate(177.5 78.7) scale(1.0)"><path fill-rule="evenodd" d="M0.05 -7.85 a8.3 7.95 0 1 0 16.6 0 a8.3 7.95 0 1 0 -16.6 0 Z M5.05 -7.85 a3.3 3.95 0 1 0 6.6 0 a3.3 3.95 0 1 0 -6.6 0 Z"/><path d="M9.5 -6.3 L17.6 -6.3 L17.6 -3.9 L9.5 -5.2 Z" fill="#fff"/><rect x="4.50" y="-9.30" width="12.05" height="3.00"/></g>
<g transform="translate(197 78.7) scale(1.0)"><rect x="0.00" y="-15.80" width="5.60" height="15.80"/><path d="M5.50 -12.60 A4.12 3.35 0 0 1 9.62 -15.95 A6.18 6.18 0 0 1 15.80 -9.77 V0 H10.20 V-8.95 A2.35 2.35 0 0 0 5.50 -8.95 Z"/><path d="M15.70 -12.60 A4.12 3.35 0 0 1 19.82 -15.95 A6.18 6.18 0 0 1 26.00 -9.77 V0 H20.50 V-8.90 A2.40 2.40 0 0 0 15.70 -8.90 Z"/></g>
<g transform="translate(226 78.7) scale(1.0)"><rect x="0.00" y="-25.80" width="5.70" height="25.80"/><circle cx="9.7" cy="-7.85" r="5.6" fill="none" stroke="#f80a0a" stroke-width="4.9"/></g>
<g transform="translate(245.8 78.7) scale(1.0)"><path fill-rule="evenodd" d="M0.05 -7.85 a8.3 7.95 0 1 0 16.6 0 a8.3 7.95 0 1 0 -16.6 0 Z M5.05 -7.85 a3.3 3.95 0 1 0 6.6 0 a3.3 3.95 0 1 0 -6.6 0 Z"/><path d="M9.5 -6.3 L17.6 -6.3 L17.6 -3.9 L9.5 -5.2 Z" fill="#fff"/><rect x="4.50" y="-9.30" width="12.05" height="3.00"/></g>
<g transform="translate(265 78.7) scale(1.0)"><rect x="0.00" y="-15.80" width="5.90" height="15.80"/><g clip-path="url(#rclip)"><path d="M5.80 -12.60 A4.68 3.35 0 0 1 10.48 -15.95 A7.02 7.02 0 0 1 17.50 -8.93 V0 H11.50 V-6.75 A2.85 2.85 0 0 0 5.80 -6.75 Z"/></g></g>
<g transform="translate(479 78.8) scale(1.0)"><path d="M10 -24.5 V-6.5 A3.5 3.5 0 0 1 3.12 -5.59" fill="none" stroke="#f80a0a" stroke-width="6" stroke-linecap="butt" stroke-linejoin="round"/></g>
<g transform="translate(495.5 78.8) scale(1.0)"><circle cx="7.7" cy="-7.85" r="5.45" fill="none" stroke="#f80a0a" stroke-width="4.8"/><rect x="11.20" y="-15.80" width="5.80" height="15.80"/></g>
<g transform="translate(516.5 78.8) scale(1.0)"><rect x="0.00" y="-15.80" width="6.10" height="15.80"/><path d="M6.00 -12.60 A4.40 3.35 0 0 1 10.40 -15.95 A6.60 6.60 0 0 1 17.00 -9.35 V0 H11.00 V-7.90 A2.50 2.50 0 0 0 6.00 -7.90 Z"/></g>
<g transform="translate(537 78.8) scale(1.0)"><g transform="rotate(180 8.25 -7.9)"><rect x="0.00" y="-15.80" width="6.10" height="15.80"/><path d="M6.00 -12.60 A4.20 3.35 0 0 1 10.20 -15.95 A6.30 6.30 0 0 1 16.50 -9.65 V0 H10.50 V-7.95 A2.25 2.25 0 0 0 6.00 -7.95 Z"/></g></g>
<g transform="translate(555.5 78.8) scale(1.0)"><circle cx="7.7" cy="-7.85" r="5.45" fill="none" stroke="#f80a0a" stroke-width="4.8"/><rect x="11.20" y="-15.80" width="5.80" height="15.80"/></g>
<g transform="translate(576 78.8) scale(1.0)"><rect x="0.00" y="-15.80" width="5.90" height="15.80"/><g clip-path="url(#rclip)"><path d="M5.80 -12.60 A4.68 3.35 0 0 1 10.48 -15.95 A7.02 7.02 0 0 1 17.50 -8.93 V0 H11.50 V-6.75 A2.85 2.85 0 0 0 5.80 -6.75 Z"/></g></g>
<g transform="translate(591 78.8) scale(1.0)"><rect x="0.00" y="-15.80" width="6.00" height="15.80"/><circle cx="3" cy="-22" r="3.3"/></g>
<g transform="translate(336.7 416.6) scale(1.0)"><rect x="0.00" y="-24.40" width="6.00" height="24.40"/><rect x="0.00" y="-24.40" width="13.90" height="5.05"/><rect x="0.00" y="-14.85" width="13.10" height="5.05"/></g>
<g transform="translate(352.25 416.6) scale(1.0)"><path fill-rule="evenodd" d="M0.05 -7.85 a8.3 7.95 0 1 0 16.6 0 a8.3 7.95 0 1 0 -16.6 0 Z M5.05 -7.85 a3.3 3.95 0 1 0 6.6 0 a3.3 3.95 0 1 0 -6.6 0 Z"/><path d="M9.5 -6.3 L17.6 -6.3 L17.6 -3.9 L9.5 -5.2 Z" fill="#fff"/><rect x="4.50" y="-9.30" width="12.05" height="3.00"/></g>
<g transform="translate(372.5 416.6) scale(1.0)"><rect x="0.00" y="-25.80" width="5.70" height="25.80"/><circle cx="9.7" cy="-7.85" r="5.6" fill="none" stroke="#f80a0a" stroke-width="4.9"/></g>
<g transform="translate(393.6 416.6) scale(1.0)"><rect x="0.00" y="-15.80" width="5.90" height="15.80"/><g clip-path="url(#rclip)"><path d="M5.80 -12.60 A4.68 3.35 0 0 1 10.48 -15.95 A7.02 7.02 0 0 1 17.50 -8.93 V0 H11.50 V-6.75 A2.85 2.85 0 0 0 5.80 -6.75 Z"/></g></g>
<g transform="translate(407.6 416.6) scale(1.0)"><g transform="rotate(180 8.25 -7.9)"><rect x="0.00" y="-15.80" width="6.10" height="15.80"/><path d="M6.00 -12.60 A4.20 3.35 0 0 1 10.20 -15.95 A6.30 6.30 0 0 1 16.50 -9.65 V0 H10.50 V-7.95 A2.25 2.25 0 0 0 6.00 -7.95 Z"/></g></g>
<g transform="translate(426.4 416.6) scale(1.0)"><circle cx="7.7" cy="-7.85" r="5.45" fill="none" stroke="#f80a0a" stroke-width="4.8"/><rect x="11.20" y="-15.80" width="5.80" height="15.80"/></g>
<g transform="translate(447.25 416.6) scale(1.0)"><rect x="0.00" y="-15.80" width="5.90" height="15.80"/><g clip-path="url(#rclip)"><path d="M5.80 -12.60 A4.68 3.35 0 0 1 10.48 -15.95 A7.02 7.02 0 0 1 17.50 -8.93 V0 H11.50 V-6.75 A2.85 2.85 0 0 0 5.80 -6.75 Z"/></g></g>
<g transform="translate(462.4 416.6) scale(1.0)"><rect x="0.00" y="-15.80" width="6.00" height="15.80"/><circle cx="3" cy="-22" r="3.3"/></g>
</g></svg>
<svg width="640" height="539" viewBox="0 0 640 539" style="position:absolute;left:0;top:0;z-index:30;pointer-events:none">
<path d="M16.6 260.0 L16.7 257.7 L17.1 255.4 L17.7 253.1 L18.6 250.9 L19.7 248.7 L21.1 246.6 L22.7 244.5 L24.5 242.4 L26.5 240.5 L28.7 238.6 L31.2 236.8 L33.8 235.1 L36.6 233.5 L39.6 232.0 L42.8 230.6 L46.1 229.4 L49.5 228.2 L53.1 227.2 L56.8 226.3 L60.7 225.6 L64.6 225.0 L68.7 224.6 L72.8 224.3 L77.0 224.2 L82.0 224.3 L86.8 224.5 L91.6 224.8 L96.3 225.2 L100.8 225.7 L105.2 226.4 L109.4 227.1 L113.5 227.9 L117.5 228.8 L121.2 229.9 L124.8 231.0 L128.1 232.1 L131.2 233.4 L134.1 234.7 L136.8 236.1 L139.2 237.5 L141.4 239.0 L143.2 240.6 L144.8 242.1 L146.1 243.7 L147.2 245.3 L147.9 246.8 L148.3 248.4 L148.5 250.0 L148.4 252.2 L148.0 254.4 L147.3 256.6 L146.3 258.8 L145.0 260.9 L143.4 263.0 L141.5 265.1 L139.3 267.1 L136.9 269.0 L134.2 270.9 L131.2 272.6 L128.0 274.3 L124.6 275.8 L121.0 277.3 L117.2 278.6 L113.2 279.8 L109.0 280.9 L104.7 281.9 L100.2 282.6 L95.6 283.2 L90.8 283.7 L86.0 284.0 L81.0 284.2 L76.0 284.2 L71.8 284.1 L67.7 283.9 L63.7 283.6 L59.8 283.1 L56.0 282.6 L52.3 282.0 L48.8 281.2 L45.3 280.4 L42.1 279.5 L38.9 278.5 L36.0 277.5 L33.2 276.3 L30.6 275.2 L28.2 273.9 L26.0 272.6 L24.0 271.3 L22.2 269.9 L20.7 268.5 L19.4 267.1 L18.4 265.7 L17.6 264.2 L17.0 262.8 L16.7 261.4 Z M12.2 260.0 L12.4 257.2 L12.8 254.4 L13.6 251.7 L14.7 249.1 L16.0 246.5 L17.6 244.1 L19.4 241.7 L21.4 239.5 L23.7 237.3 L26.2 235.3 L28.8 233.4 L31.7 231.6 L34.7 229.9 L37.9 228.3 L41.2 226.8 L44.7 225.5 L48.4 224.4 L52.1 223.3 L56.0 222.4 L60.0 221.7 L64.1 221.1 L68.3 220.7 L72.6 220.4 L77.0 220.4 L82.1 220.4 L87.0 220.6 L91.9 220.9 L96.7 221.4 L101.3 221.9 L105.8 222.6 L110.2 223.4 L114.4 224.2 L118.4 225.2 L122.3 226.3 L125.9 227.4 L129.4 228.7 L132.7 230.0 L135.8 231.4 L138.6 232.9 L141.2 234.5 L143.5 236.1 L145.6 237.9 L147.5 239.7 L149.0 241.6 L150.3 243.6 L151.2 245.6 L151.8 247.8 L151.9 250.0 L151.7 252.7 L151.1 255.3 L150.1 257.8 L148.8 260.2 L147.2 262.6 L145.4 264.8 L143.2 266.9 L140.8 269.0 L138.2 270.9 L135.3 272.7 L132.2 274.5 L128.9 276.2 L125.4 277.8 L121.7 279.2 L117.8 280.6 L113.7 281.8 L109.5 282.9 L105.1 283.9 L100.6 284.8 L95.9 285.6 L91.1 286.2 L86.2 286.7 L81.1 287.0 L76.0 287.2 L71.7 287.2 L67.6 287.0 L63.4 286.8 L59.4 286.4 L55.5 286.0 L51.7 285.4 L48.0 284.7 L44.5 284.0 L41.0 283.1 L37.8 282.2 L34.6 281.1 L31.7 280.0 L28.9 278.8 L26.3 277.5 L23.8 276.1 L21.6 274.7 L19.6 273.1 L17.8 271.5 L16.2 269.8 L14.8 268.0 L13.7 266.1 L12.9 264.2 L12.4 262.1 Z" fill="#c20d14" fill-rule="evenodd"/>
<path d="M32.1 241.9 L34.2 241.3 L36.4 240.6 L38.6 239.9 L40.9 239.3 L43.3 238.6 L45.8 237.9 L48.2 237.2 L50.8 236.4 L53.3 235.7 L56.0 235.0 L58.7 234.3 L61.4 233.6 L64.2 233.0 L67.0 232.4 L69.9 231.9 L72.8 231.4 L75.8 230.9 L78.7 230.5 L81.7 230.2 L84.7 229.9 L87.8 229.7 L90.8 229.5 L93.9 229.4 L97.0 229.4 L99.3 229.4 L101.6 229.4 L103.8 229.5 L105.9 229.5 L108.0 229.6 L110.0 229.8 L112.0 229.9 L113.9 230.1 L115.8 230.4 L117.6 230.6 L119.3 231.0 L121.0 231.3 L122.7 231.7 L124.3 232.1 L125.9 232.5 L127.4 232.9 L128.9 233.4 L130.3 233.9 L131.8 234.5 L133.1 235.1 L134.5 235.7 L135.8 236.4 L137.1 237.2 L138.4 238.0 L138.6 237.6 L137.5 236.6 L136.3 235.7 L135.0 234.8 L133.8 233.9 L132.4 233.1 L131.0 232.4 L129.6 231.6 L128.1 231.0 L126.6 230.3 L125.0 229.8 L123.3 229.3 L121.6 228.9 L119.8 228.5 L118.0 228.1 L116.2 227.8 L114.3 227.5 L112.3 227.3 L110.3 227.0 L108.2 226.9 L106.1 226.7 L103.9 226.6 L101.7 226.5 L99.4 226.4 L97.0 226.4 L93.8 226.5 L90.7 226.6 L87.6 226.8 L84.5 227.0 L81.4 227.4 L78.4 227.8 L75.3 228.2 L72.4 228.7 L69.4 229.2 L66.5 229.8 L63.6 230.4 L60.8 231.1 L58.1 231.8 L55.3 232.5 L52.7 233.3 L50.1 234.0 L47.5 234.8 L45.0 235.7 L42.6 236.6 L40.3 237.6 L38.1 238.5 L36.0 239.5 L33.9 240.5 L31.9 241.5 Z" fill="#c20d14"/>
<path d="M336.9 249.0 L337.0 246.7 L337.4 244.4 L338.0 242.1 L338.9 239.9 L340.0 237.7 L341.4 235.6 L343.0 233.5 L344.8 231.4 L346.8 229.5 L349.0 227.6 L351.5 225.8 L354.1 224.1 L356.9 222.5 L359.9 221.0 L363.1 219.6 L366.4 218.4 L369.8 217.2 L373.4 216.2 L377.1 215.3 L381.0 214.6 L384.9 214.0 L389.0 213.6 L393.1 213.3 L397.3 213.2 L402.3 213.3 L407.1 213.5 L411.9 213.8 L416.6 214.2 L421.1 214.7 L425.5 215.4 L429.7 216.1 L433.8 216.9 L437.8 217.8 L441.5 218.9 L445.1 220.0 L448.4 221.1 L451.5 222.4 L454.4 223.7 L457.1 225.1 L459.5 226.5 L461.7 228.0 L463.5 229.6 L465.1 231.1 L466.4 232.7 L467.5 234.3 L468.2 235.8 L468.6 237.4 L468.8 239.0 L468.7 241.2 L468.3 243.4 L467.6 245.6 L466.6 247.8 L465.3 249.9 L463.7 252.0 L461.8 254.1 L459.6 256.1 L457.2 258.0 L454.5 259.9 L451.5 261.6 L448.3 263.3 L444.9 264.8 L441.3 266.3 L437.5 267.6 L433.5 268.8 L429.3 269.9 L425.0 270.9 L420.5 271.6 L415.9 272.2 L411.1 272.7 L406.3 273.0 L401.3 273.2 L396.3 273.2 L392.1 273.1 L388.0 272.9 L384.0 272.6 L380.1 272.1 L376.3 271.6 L372.6 271.0 L369.1 270.2 L365.6 269.4 L362.4 268.5 L359.2 267.5 L356.3 266.5 L353.5 265.3 L350.9 264.2 L348.5 262.9 L346.3 261.6 L344.3 260.3 L342.5 258.9 L341.0 257.5 L339.7 256.1 L338.7 254.7 L337.9 253.2 L337.3 251.8 L337.0 250.4 Z M332.5 249.0 L332.7 246.2 L333.1 243.4 L333.9 240.7 L335.0 238.1 L336.3 235.5 L337.9 233.1 L339.7 230.7 L341.7 228.5 L344.0 226.3 L346.5 224.3 L349.1 222.4 L352.0 220.6 L355.0 218.9 L358.2 217.3 L361.5 215.8 L365.0 214.5 L368.7 213.4 L372.4 212.3 L376.3 211.4 L380.3 210.7 L384.4 210.1 L388.6 209.7 L392.9 209.4 L397.3 209.4 L402.4 209.4 L407.3 209.6 L412.2 209.9 L417.0 210.4 L421.6 210.9 L426.1 211.6 L430.5 212.4 L434.7 213.2 L438.7 214.2 L442.6 215.3 L446.2 216.4 L449.7 217.7 L453.0 219.0 L456.1 220.4 L458.9 221.9 L461.5 223.5 L463.8 225.1 L465.9 226.9 L467.8 228.7 L469.3 230.6 L470.6 232.6 L471.5 234.6 L472.1 236.8 L472.2 239.0 L472.0 241.7 L471.4 244.3 L470.4 246.8 L469.1 249.2 L467.5 251.6 L465.7 253.8 L463.5 255.9 L461.1 258.0 L458.5 259.9 L455.6 261.7 L452.5 263.5 L449.2 265.2 L445.7 266.8 L442.0 268.2 L438.1 269.6 L434.0 270.8 L429.8 271.9 L425.4 272.9 L420.9 273.8 L416.2 274.6 L411.4 275.2 L406.5 275.7 L401.4 276.0 L396.3 276.2 L392.0 276.2 L387.9 276.0 L383.7 275.8 L379.7 275.4 L375.8 275.0 L372.0 274.4 L368.3 273.7 L364.8 273.0 L361.3 272.1 L358.1 271.2 L354.9 270.1 L352.0 269.0 L349.2 267.8 L346.6 266.5 L344.1 265.1 L341.9 263.7 L339.9 262.1 L338.1 260.5 L336.5 258.8 L335.1 257.0 L334.0 255.1 L333.2 253.2 L332.7 251.1 Z" fill="#c20d14" fill-rule="evenodd"/>
<path d="M352.4 230.9 L354.5 230.3 L356.7 229.6 L358.9 228.9 L361.2 228.3 L363.6 227.6 L366.1 226.9 L368.5 226.2 L371.1 225.4 L373.6 224.7 L376.3 224.0 L379.0 223.3 L381.7 222.6 L384.5 222.0 L387.3 221.4 L390.2 220.9 L393.1 220.4 L396.1 219.9 L399.0 219.5 L402.0 219.2 L405.0 218.9 L408.1 218.7 L411.1 218.5 L414.2 218.4 L417.3 218.4 L419.6 218.4 L421.9 218.4 L424.1 218.5 L426.2 218.5 L428.3 218.6 L430.3 218.8 L432.3 218.9 L434.2 219.1 L436.1 219.4 L437.9 219.6 L439.6 220.0 L441.3 220.3 L443.0 220.7 L444.6 221.1 L446.2 221.5 L447.7 221.9 L449.2 222.4 L450.6 222.9 L452.1 223.5 L453.4 224.1 L454.8 224.7 L456.1 225.4 L457.4 226.2 L458.7 227.0 L458.9 226.6 L457.8 225.6 L456.6 224.7 L455.3 223.8 L454.1 222.9 L452.7 222.1 L451.3 221.4 L449.9 220.6 L448.4 220.0 L446.9 219.3 L445.3 218.8 L443.6 218.3 L441.9 217.9 L440.1 217.5 L438.3 217.1 L436.5 216.8 L434.6 216.5 L432.6 216.3 L430.6 216.0 L428.5 215.9 L426.4 215.7 L424.2 215.6 L422.0 215.5 L419.7 215.4 L417.3 215.4 L414.1 215.5 L411.0 215.6 L407.9 215.8 L404.8 216.0 L401.7 216.4 L398.7 216.8 L395.6 217.2 L392.7 217.7 L389.7 218.2 L386.8 218.8 L383.9 219.4 L381.1 220.1 L378.4 220.8 L375.6 221.5 L373.0 222.3 L370.4 223.0 L367.8 223.8 L365.3 224.7 L362.9 225.6 L360.6 226.6 L358.4 227.5 L356.3 228.5 L354.2 229.5 L352.2 230.5 Z" fill="#c20d14"/>
<path d="M174.3 388.6 L174.4 386.3 L174.8 384.0 L175.4 381.7 L176.3 379.5 L177.4 377.3 L178.8 375.2 L180.4 373.1 L182.2 371.0 L184.2 369.1 L186.4 367.2 L188.9 365.4 L191.5 363.7 L194.3 362.1 L197.3 360.6 L200.5 359.2 L203.8 358.0 L207.2 356.8 L210.8 355.8 L214.5 354.9 L218.4 354.2 L222.3 353.6 L226.4 353.2 L230.5 352.9 L234.7 352.8 L239.7 352.9 L244.5 353.1 L249.3 353.4 L254.0 353.8 L258.5 354.3 L262.9 355.0 L267.1 355.7 L271.2 356.5 L275.2 357.4 L278.9 358.5 L282.5 359.6 L285.8 360.7 L288.9 362.0 L291.8 363.3 L294.5 364.7 L296.9 366.1 L299.1 367.6 L300.9 369.2 L302.5 370.7 L303.8 372.3 L304.9 373.9 L305.6 375.4 L306.0 377.0 L306.2 378.6 L306.1 380.8 L305.7 383.0 L305.0 385.2 L304.0 387.4 L302.7 389.5 L301.1 391.6 L299.2 393.7 L297.0 395.7 L294.6 397.6 L291.9 399.5 L288.9 401.2 L285.7 402.9 L282.3 404.4 L278.7 405.9 L274.9 407.2 L270.9 408.4 L266.7 409.5 L262.4 410.5 L257.9 411.2 L253.3 411.8 L248.5 412.3 L243.7 412.6 L238.7 412.8 L233.7 412.8 L229.5 412.7 L225.4 412.5 L221.4 412.2 L217.5 411.7 L213.7 411.2 L210.0 410.6 L206.5 409.8 L203.0 409.0 L199.8 408.1 L196.6 407.1 L193.7 406.1 L190.9 404.9 L188.3 403.8 L185.9 402.5 L183.7 401.2 L181.7 399.9 L179.9 398.5 L178.4 397.1 L177.1 395.7 L176.1 394.3 L175.3 392.8 L174.7 391.4 L174.4 390.0 Z M169.9 388.6 L170.1 385.8 L170.5 383.0 L171.3 380.3 L172.4 377.7 L173.7 375.1 L175.3 372.7 L177.1 370.3 L179.1 368.1 L181.4 365.9 L183.9 363.9 L186.5 362.0 L189.4 360.2 L192.4 358.5 L195.6 356.9 L198.9 355.4 L202.4 354.1 L206.1 353.0 L209.8 351.9 L213.7 351.0 L217.7 350.3 L221.8 349.7 L226.0 349.3 L230.3 349.0 L234.7 349.0 L239.8 349.0 L244.7 349.2 L249.6 349.5 L254.4 350.0 L259.0 350.5 L263.5 351.2 L267.9 352.0 L272.1 352.8 L276.1 353.8 L280.0 354.9 L283.6 356.0 L287.1 357.3 L290.4 358.6 L293.5 360.0 L296.3 361.5 L298.9 363.1 L301.2 364.7 L303.3 366.5 L305.2 368.3 L306.7 370.2 L308.0 372.2 L308.9 374.2 L309.5 376.4 L309.6 378.6 L309.4 381.3 L308.8 383.9 L307.8 386.4 L306.5 388.8 L304.9 391.2 L303.1 393.4 L300.9 395.5 L298.5 397.6 L295.9 399.5 L293.0 401.3 L289.9 403.1 L286.6 404.8 L283.1 406.4 L279.4 407.8 L275.5 409.2 L271.4 410.4 L267.2 411.5 L262.8 412.5 L258.3 413.4 L253.6 414.2 L248.8 414.8 L243.9 415.3 L238.8 415.6 L233.7 415.8 L229.4 415.8 L225.3 415.6 L221.1 415.4 L217.1 415.0 L213.2 414.6 L209.4 414.0 L205.7 413.3 L202.2 412.6 L198.7 411.7 L195.5 410.8 L192.3 409.7 L189.4 408.6 L186.6 407.4 L184.0 406.1 L181.5 404.7 L179.3 403.3 L177.3 401.7 L175.5 400.1 L173.9 398.4 L172.5 396.6 L171.4 394.7 L170.6 392.8 L170.1 390.7 Z" fill="#c20d14" fill-rule="evenodd"/>
<path d="M189.8 370.5 L191.9 369.9 L194.1 369.2 L196.3 368.5 L198.6 367.9 L201.0 367.2 L203.5 366.5 L205.9 365.8 L208.5 365.0 L211.0 364.3 L213.7 363.6 L216.4 362.9 L219.1 362.2 L221.9 361.6 L224.7 361.0 L227.6 360.5 L230.5 360.0 L233.5 359.5 L236.4 359.1 L239.4 358.8 L242.4 358.5 L245.5 358.3 L248.5 358.1 L251.6 358.0 L254.7 358.0 L257.0 358.0 L259.3 358.0 L261.5 358.1 L263.6 358.1 L265.7 358.2 L267.7 358.4 L269.7 358.5 L271.6 358.7 L273.5 359.0 L275.3 359.2 L277.0 359.6 L278.7 359.9 L280.4 360.3 L282.0 360.7 L283.6 361.1 L285.1 361.5 L286.6 362.0 L288.0 362.5 L289.5 363.1 L290.8 363.7 L292.2 364.3 L293.5 365.0 L294.8 365.8 L296.1 366.6 L296.3 366.2 L295.2 365.2 L294.0 364.3 L292.7 363.4 L291.5 362.5 L290.1 361.7 L288.7 361.0 L287.3 360.2 L285.8 359.6 L284.3 358.9 L282.7 358.4 L281.0 357.9 L279.3 357.5 L277.5 357.1 L275.7 356.7 L273.9 356.4 L272.0 356.1 L270.0 355.9 L268.0 355.6 L265.9 355.5 L263.8 355.3 L261.6 355.2 L259.4 355.1 L257.1 355.0 L254.7 355.0 L251.5 355.1 L248.4 355.2 L245.3 355.4 L242.2 355.6 L239.1 356.0 L236.1 356.4 L233.0 356.8 L230.1 357.3 L227.1 357.8 L224.2 358.4 L221.3 359.0 L218.5 359.7 L215.8 360.4 L213.0 361.1 L210.4 361.9 L207.8 362.6 L205.2 363.4 L202.7 364.3 L200.3 365.2 L198.0 366.2 L195.8 367.1 L193.7 368.1 L191.6 369.1 L189.6 370.1 Z" fill="#c20d14"/>
</svg>
</body></html>
